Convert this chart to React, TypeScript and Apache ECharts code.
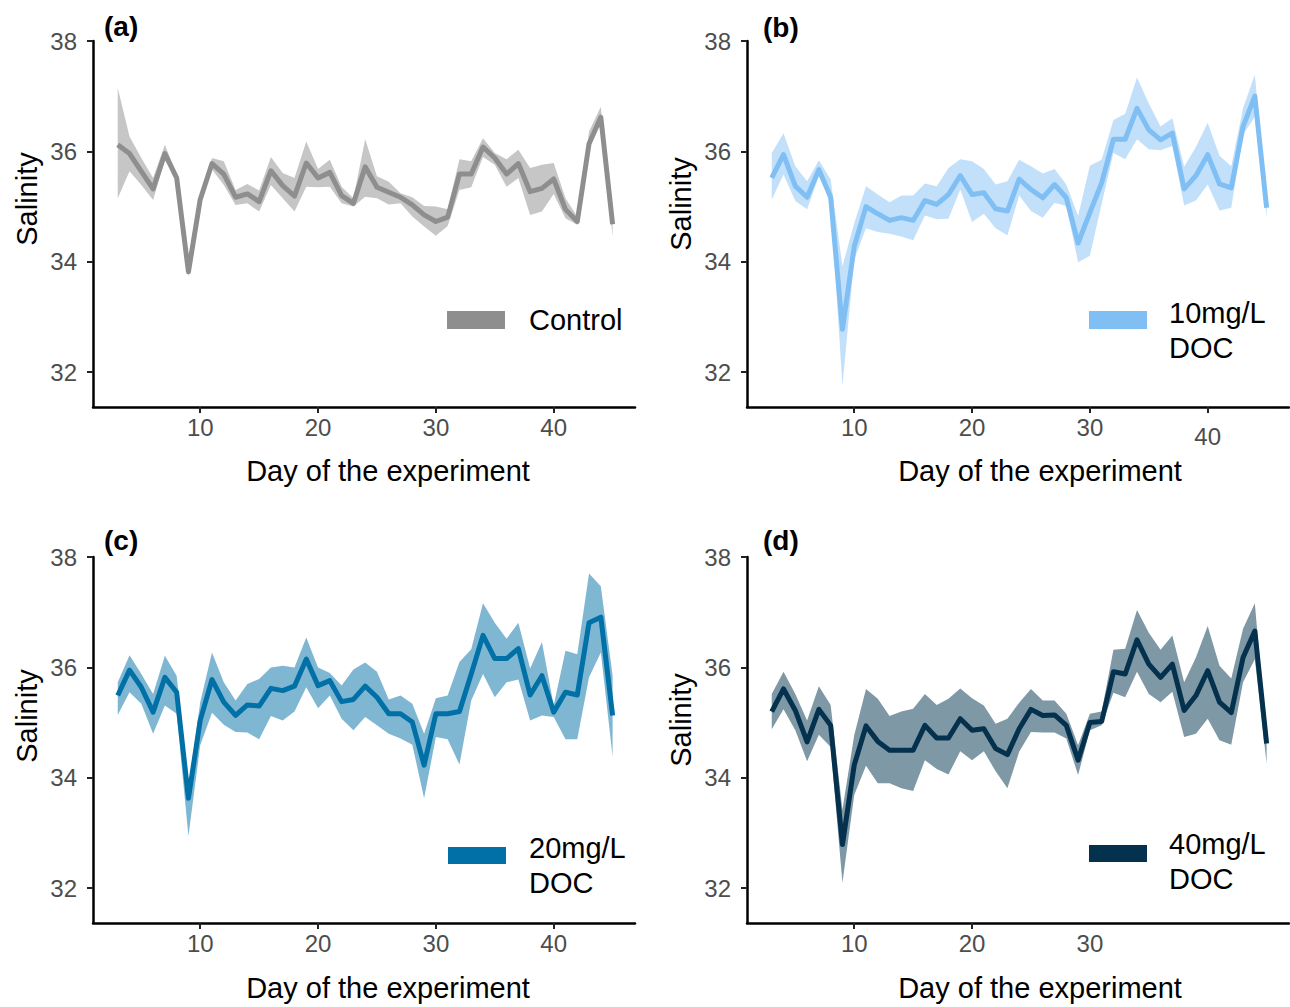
import React, { useEffect, useRef } from "react";
import * as echarts from "echarts";

const days = [3,4,5,6,7,8,9,10,11,12,13,14,15,16,17,18,19,20,21,22,23,24,25,26,27,28,29,30,31,32,33,34,35,36,37,38,39,40,41,42,43,44,45];

const controlMean = [36.12,35.96,35.64,35.32,35.96,35.52,33.82,35.13,35.78,35.59,35.17,35.23,35.09,35.65,35.38,35.19,35.79,35.52,35.62,35.2,35.06,35.72,35.35,35.26,35.17,35.03,34.85,34.73,34.81,35.59,35.59,36.08,35.88,35.59,35.78,35.27,35.33,35.5,34.95,34.73,36.14,36.62,34.68];
const controlUpper = [37.15,36.27,35.88,35.52,36.12,35.58,33.91,35.15,35.88,35.82,35.3,35.41,35.29,35.9,35.61,35.52,36.18,35.68,35.85,35.36,35.15,36.22,35.55,35.45,35.24,35.17,35.01,35.0,34.95,35.86,35.82,36.24,35.97,35.86,36.03,35.7,35.76,35.79,35.15,34.82,36.36,36.81,34.71];
const controlLower = [35.15,35.64,35.39,35.12,35.85,35.48,33.73,35.09,35.67,35.39,35.03,35.06,34.91,35.39,35.15,34.91,35.36,35.35,35.36,35.06,35.0,35.18,35.15,35.04,35.06,34.82,34.64,34.47,34.65,35.3,35.35,35.9,35.76,35.36,35.52,34.85,34.91,35.23,34.79,34.67,36.06,36.58,34.45];

const doc10Mean = [35.52,35.94,35.37,35.17,35.67,35.17,32.78,34.28,35.0,34.87,34.75,34.8,34.75,35.11,35.04,35.22,35.56,35.22,35.25,34.96,34.92,35.5,35.31,35.16,35.4,35.16,34.34,34.89,35.43,36.22,36.22,36.78,36.39,36.21,36.33,35.32,35.56,35.94,35.41,35.34,36.45,37.0,34.98];
const doc10Upper = [35.97,36.33,35.73,35.46,35.84,35.49,33.92,34.7,35.37,35.22,35.08,35.2,35.2,35.42,35.37,35.7,35.86,35.82,35.68,35.4,35.46,35.85,35.73,35.6,35.68,35.4,34.83,35.74,35.85,36.57,36.68,37.34,36.87,36.45,36.6,35.72,36.08,36.52,35.92,35.73,36.78,37.39,35.07];
const doc10Lower = [35.13,35.58,35.1,34.95,35.55,35.1,31.75,34.04,34.61,34.54,34.51,34.46,34.39,34.84,34.77,34.78,35.31,34.72,34.87,34.61,34.48,35.2,34.92,34.8,35.07,35.01,33.99,34.11,35.05,35.97,35.86,36.22,36.04,36.02,36.1,35.02,35.11,35.4,34.93,34.98,36.3,36.63,34.8];

const doc20Mean = [35.49,35.95,35.64,35.19,35.82,35.55,33.63,35.04,35.78,35.37,35.13,35.32,35.3,35.62,35.58,35.66,36.15,35.67,35.76,35.38,35.42,35.66,35.46,35.16,35.16,35.01,34.23,35.16,35.16,35.2,35.88,36.58,36.16,36.16,36.34,35.5,35.85,35.19,35.55,35.5,36.81,36.91,35.13];
const doc20Upper = [35.73,36.22,35.88,35.52,36.21,35.85,33.81,35.37,36.27,35.73,35.4,35.7,35.79,36.0,36.03,36.0,36.54,36.0,35.9,35.67,35.96,36.09,35.92,35.42,35.49,35.34,34.8,35.44,35.49,36.1,36.33,37.16,36.81,36.52,36.81,35.98,36.46,35.31,36.3,36.24,37.7,37.47,35.85];
const doc20Lower = [35.14,35.55,35.34,34.8,35.31,35.16,32.94,34.59,35.18,34.96,34.83,34.82,34.7,35.12,35.04,35.2,35.64,35.26,35.49,35.07,34.86,35.1,34.95,34.8,34.71,34.6,33.63,34.74,34.7,34.24,35.4,35.88,35.46,35.73,35.78,35.04,35.13,35.1,34.7,34.7,35.82,36.27,34.38];

const doc40Mean = [35.2,35.61,35.22,34.65,35.24,34.95,32.79,34.23,34.94,34.66,34.5,34.5,34.5,34.95,34.72,34.72,35.07,34.86,34.89,34.53,34.42,34.89,35.24,35.13,35.14,34.95,34.32,35.0,35.02,35.92,35.88,36.5,36.06,35.82,36.06,35.22,35.49,35.94,35.37,35.18,36.18,36.66,34.62];
const doc40Upper = [35.52,35.92,35.52,35.04,35.66,35.32,33.42,34.77,35.61,35.43,35.12,35.2,35.25,35.52,35.32,35.43,35.62,35.44,35.31,34.98,35.07,35.36,35.61,35.4,35.4,35.16,34.59,35.16,35.2,36.32,36.34,37.04,36.63,36.32,36.58,35.73,36.18,36.75,36.03,35.8,36.7,37.16,34.71];
const doc40Lower = [34.88,35.24,34.86,34.3,34.78,34.56,32.1,33.69,34.22,33.9,33.9,33.81,33.76,34.32,34.16,34.06,34.48,34.32,34.48,34.12,33.81,34.47,34.83,34.82,34.82,34.71,34.05,34.86,34.95,35.54,35.46,35.92,35.52,35.37,35.56,34.74,34.8,35.07,34.68,34.6,35.73,36.15,34.26];

const panelLetters = ["(a)", "(b)", "(c)", "(d)"];
const legendLabels = ["Control", "10mg/L\nDOC", "20mg/L\nDOC", "40mg/L\nDOC"];
const yTicks = [32, 34, 36, 38];
const xTicksA = [10, 20, 30, 40];
const xTicksB = [10, 20, 30, 40];
const xTicksC = [10, 20, 30, 40];
const xLabelsD = [10, 20, 30];
const xTickMarksD = [10, 20];
const yTitle = "Salinity";
const xTitle = "Day of the experiment";

const FONT = '"Liberation Sans", Arial, Helvetica, sans-serif';

const panels = [
  { mean: controlMean, upper: controlUpper, lower: controlLower, line: "#8e8e8e", band: "#c6c6c6",
    left: 93, top: 41, labelVals: xTicksA, tickVals: xTicksA,
    letterX: 104, letterY: 26, salX: 27, salY: 199, titleX: 388, titleY: 471,
    swX: 447, swY: 311, swH: 18, legX: 529, legY: 320 },
  { mean: doc10Mean, upper: doc10Upper, lower: doc10Lower, line: "#80bff4", band: "#c2e0fa",
    left: 747, top: 41, labelVals: xTicksB, tickVals: xTicksB,
    letterX: 763, letterY: 27, salX: 681, salY: 204, titleX: 1040, titleY: 471,
    swX: 1089, swY: 311, swH: 18, legX: 1169, legY: 330 },
  { mean: doc20Mean, upper: doc20Upper, lower: doc20Lower, line: "#0070a7", band: "#7fb7d3",
    left: 93, top: 557, labelVals: xTicksC, tickVals: xTicksC,
    letterX: 104, letterY: 540, salX: 27, salY: 716, titleX: 388, titleY: 988,
    swX: 448, swY: 847, swH: 17, legX: 529, legY: 865 },
  { mean: doc40Mean, upper: doc40Upper, lower: doc40Lower, line: "#04314e", band: "#7f98a6",
    left: 747, top: 557, labelVals: xLabelsD, tickVals: xTickMarksD,
    letterX: 763, letterY: 540, salX: 681, salY: 720, titleX: 1040, titleY: 988,
    swX: 1089, swY: 845, swH: 17, legX: 1169, legY: 861 },
];

const GRID_W = 542;
const GRID_H = 366;
const TICK_FONT = 24;

function buildOption() {
  const grid: any[] = [];
  const xAxis: any[] = [];
  const yAxis: any[] = [];
  const series: any[] = [];
  const graphic: any[] = [];

  panels.forEach((p, i) => {
    grid.push({ left: p.left, top: p.top, width: GRID_W, height: GRID_H, containLabel: false });
    const isB = i === 1;
    xAxis.push({
      type: "value", gridIndex: i, min: 0.9, max: 46.9,
      axisLine: { show: true, onZero: false, lineStyle: { color: "#000", width: 2.5 } },
      axisTick: { show: true, length: 6, customValues: p.tickVals, lineStyle: { color: "#222", width: 2 } },
      axisLabel: {
        show: true, customValues: p.labelVals, margin: 8, fontSize: TICK_FONT, color: "#4d4d4d", fontFamily: FONT,
        formatter: isB ? (v: number) => (v === 40 ? "{low|" + v + "}" : "{n|" + v + "}") : undefined,
        rich: isB ? {
          low: { fontSize: TICK_FONT, color: "#4d4d4d", fontFamily: FONT, padding: [9, 0, 0, 0] },
          n: { fontSize: TICK_FONT, color: "#4d4d4d", fontFamily: FONT },
        } : undefined,
      },
      splitLine: { show: false },
    });
    yAxis.push({
      type: "value", gridIndex: i, min: 31.37, max: 38,
      axisLine: { show: true, onZero: false, lineStyle: { color: "#000", width: 2.5 } },
      axisTick: { show: true, length: 6, customValues: yTicks, lineStyle: { color: "#222", width: 2 } },
      axisLabel: { show: true, customValues: yTicks, margin: 16, fontSize: TICK_FONT, color: "#4d4d4d", fontFamily: FONT },
      splitLine: { show: false },
    });

    const bandData = days.map((d, k) => [d, p.lower[k], p.upper[k]]);
    const meanData = days.map((d, k) => [d, p.mean[k]]);

    series.push({
      type: "custom", xAxisIndex: i, yAxisIndex: i, data: bandData, silent: true, z: 1,
      encode: { x: 0, y: [1, 2] },
      renderItem: (params: any, api: any) => {
        if (params.dataIndex !== 0) return null;
        const top: number[][] = [];
        const bottom: number[][] = [];
        bandData.forEach((row) => {
          top.push(api.coord([row[0], row[2]]));
          bottom.push(api.coord([row[0], row[1]]));
        });
        const points = top.concat(bottom.reverse());
        return { type: "polygon", shape: { points }, style: { fill: p.band, stroke: null } };
      },
    });
    series.push({
      type: "line", xAxisIndex: i, yAxisIndex: i, data: meanData, symbol: "none", silent: true,
      lineStyle: { color: p.line, width: 5, join: "round", cap: "butt" }, z: 3,
    });

    graphic.push({
      type: "text", x: p.letterX, y: p.letterY, z: 100,
      style: { text: panelLetters[i], fontSize: 28, fontWeight: "bold", fontFamily: FONT, fill: "#000", align: "left", verticalAlign: "middle" },
    });
    graphic.push({
      type: "text", x: p.salX, y: p.salY, rotation: Math.PI / 2, z: 100,
      style: { text: yTitle, fontSize: 29, fontFamily: FONT, fill: "#000", align: "center", verticalAlign: "middle" },
    });
    graphic.push({
      type: "text", x: p.titleX, y: p.titleY, z: 100,
      style: { text: xTitle, fontSize: 29, fontFamily: FONT, fill: "#000", align: "center", verticalAlign: "middle" },
    });
    graphic.push({
      type: "rect", z: 100, shape: { x: p.swX, y: p.swY, width: 58, height: p.swH },
      style: { fill: p.line },
    });
    graphic.push({
      type: "text", x: p.legX, y: p.legY, z: 100,
      style: { text: legendLabels[i], fontSize: 29, lineHeight: 35, fontFamily: FONT, fill: "#000", align: "left", verticalAlign: "middle" },
    });
  });

  return {
    animation: false,
    backgroundColor: "#fff",
    grid, xAxis, yAxis, series, graphic,
  };
}

export default function App() {
  const ref = useRef<HTMLDivElement>(null);
  useEffect(() => {
    if (!ref.current) return;
    const chart = echarts.init(ref.current, null, { renderer: "svg" });
    chart.setOption(buildOption() as any);
    return () => chart.dispose();
  }, []);
  return (
    <div
      ref={ref}
      style={{ position: "absolute", left: 0, top: 0, width: 1290, height: 1007, background: "#fff" }}
    />
  );
}
